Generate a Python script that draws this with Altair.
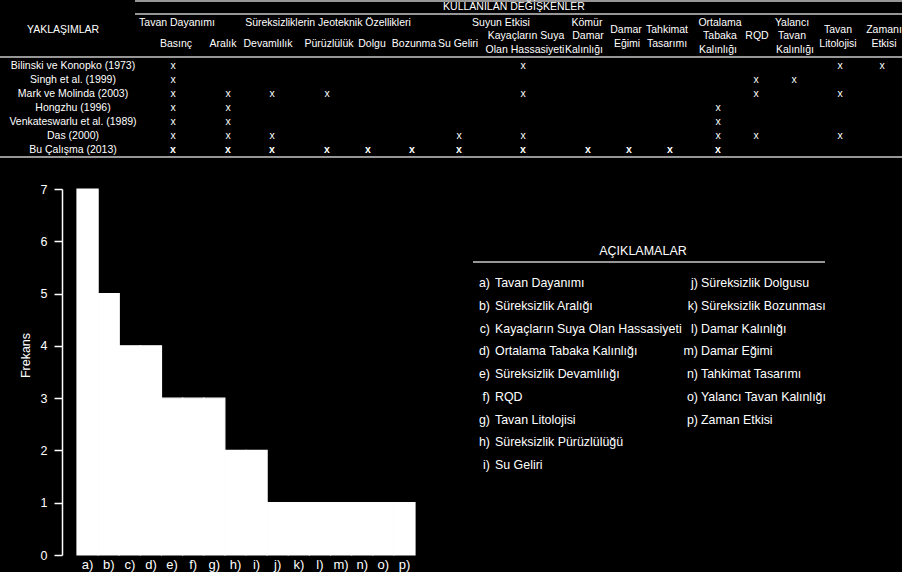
import altair as alt
import pandas as pd

FONT = "Liberation Sans"

# ---------------- data ----------------
approaches = [
    "Bilinski ve Konopko (1973)",
    "Singh et al. (1999)",
    "Mark ve Molinda (2003)",
    "Hongzhu (1996)",
    "Venkateswarlu et al. (1989)",
    "Das (2000)",
    "Bu Çalışma (2013)",
]

table_columns = [
    "Basınç", "Aralık", "Devamlılık", "Pürüzlülük", "Dolgu", "Bozunma", "Su Geliri",
    "Kayaçların Suya Olan Hassasiyeti", "Kömür Damar Kalınlığı", "Damar Eğimi",
    "Tahkimat Tasarımı", "Ortalama Tabaka Kalınlığı", "RQD", "Yalancı Tavan Kalınlığı",
    "Tavan Litolojisi", "Zaman Etkisi",
]

approach_uses = {
    "Bilinski ve Konopko (1973)": ["Basınç", "Kayaçların Suya Olan Hassasiyeti",
                                   "Tavan Litolojisi", "Zaman Etkisi"],
    "Singh et al. (1999)": ["Basınç", "RQD", "Yalancı Tavan Kalınlığı"],
    "Mark ve Molinda (2003)": ["Basınç", "Aralık", "Devamlılık", "Pürüzlülük",
                               "Kayaçların Suya Olan Hassasiyeti", "RQD", "Tavan Litolojisi"],
    "Hongzhu (1996)": ["Basınç", "Aralık", "Ortalama Tabaka Kalınlığı"],
    "Venkateswarlu et al. (1989)": ["Basınç", "Aralık", "Ortalama Tabaka Kalınlığı"],
    "Das (2000)": ["Basınç", "Aralık", "Devamlılık", "Su Geliri",
                   "Kayaçların Suya Olan Hassasiyeti", "Ortalama Tabaka Kalınlığı",
                   "RQD", "Tavan Litolojisi"],
    "Bu Çalışma (2013)": ["Basınç", "Aralık", "Devamlılık", "Pürüzlülük", "Dolgu", "Bozunma",
                          "Su Geliri", "Kayaçların Suya Olan Hassasiyeti",
                          "Kömür Damar Kalınlığı", "Damar Eğimi", "Tahkimat Tasarımı",
                          "Ortalama Tabaka Kalınlığı"],
}
highlight_approach = "Bu Çalışma (2013)"

header_labels = [
    "KULLANILAN DEĞİŞKENLER", "YAKLAŞIMLAR", "Tavan Dayanımı",
    "Süreksizliklerin Jeoteknik Özellikleri", "Suyun Etkisi",
    "Basınç", "Aralık", "Devamlılık", "Pürüzlülük", "Dolgu", "Bozunma", "Su Geliri",
    "Kayaçların Suya", "Olan Hassasiyeti", "Kömür", "Damar", "Kalınlığı",
    "Damar", "Eğimi", "Tahkimat", "Tasarımı", "Ortalama", "Tabaka", "Kalınlığı",
    "RQD", "Yalancı", "Tavan", "Kalınlığı", "Tavan", "Litolojisi", "Zamanı", "Etkisi",
]

var_letters = ["a)", "b)", "c)", "d)", "e)", "f)", "g)", "h)", "i)",
               "j)", "k)", "l)", "m)", "n)", "o)", "p)"]
var_names = [
    "Tavan Dayanımı", "Süreksizlik Aralığı", "Kayaçların Suya Olan Hassasiyeti",
    "Ortalama Tabaka Kalınlığı", "Süreksizlik Devamlılığı", "RQD", "Tavan Litolojisi",
    "Süreksizlik Pürüzlülüğü", "Su Geliri", "Süreksizlik Dolgusu", "Süreksizlik Bozunması",
    "Damar Kalınlığı", "Damar Eğimi", "Tahkimat Tasarımı", "Yalancı Tavan Kalınlığı",
    "Zaman Etkisi",
]
frequencies = [7, 5, 4, 4, 3, 3, 3, 2, 2, 1, 1, 1, 1, 1, 1, 1]

legend_title = "AÇIKLAMALAR"
y_title = "Frekans"

# ---------------- layout (pixels) ----------------
X0, Y0 = 77, 189            # plot-area origin of the histogram on the page
PLOT_W, PLOT_H = 338, 366
PAGE_W, PAGE_H = 902, 572

header_xy = [
    (514, 7), (63, 30), (177, 23), (328, 23), (501, 23),
    (176, 44), (223, 44), (268, 44), (329, 44), (372, 44), (414, 44), (458, 44),
    (526, 36), (525, 50), (587, 23), (588, 36), (584, 50),
    (626, 30), (627, 44), (667, 30), (667, 44), (720, 23), (720, 36), (718, 50),
    (757, 36), (792, 23), (792, 36), (795, 50), (838, 30), (838, 44), (884, 30), (884, 44),
]
column_x = [173, 228, 272, 327, 368, 412, 459, 523, 588, 629, 670, 718, 756, 794, 840, 882]
row_label_x = 73
row_y0, row_step = 65.5, 14.1
table_lines = [(135, 902, 1), (135, 902, 14), (0, 902, 57), (0, 902, 157)]
legend_line = (473, 825, 262)
legend_title_xy = (643, 251)
legend_left = (490, 495)   # letter right edge, name left edge
legend_right = (698, 701)
legend_y0, legend_step, legend_rows = 283.3, 22.7, 9

LINE_COLOR = "#c8c8c8"
TABLE_FS = 10.5
LEGEND_FS = 12.4

# ---------------- frames ----------------
hdr = pd.DataFrame({
    "text": header_labels,
    "px": [p[0] - X0 for p in header_xy],
    "py": [p[1] - Y0 for p in header_xy],
})

rows = pd.DataFrame({
    "text": approaches,
    "px": [row_label_x - X0] * len(approaches),
    "py": [row_y0 + i * row_step - Y0 for i in range(len(approaches))],
})

cell_records = []
for i, a in enumerate(approaches):
    for c in approach_uses[a]:
        j = table_columns.index(c)
        cell_records.append({
            "text": "x",
            "px": column_x[j] - X0,
            "py": row_y0 + i * row_step - Y0,
            "bold": a == highlight_approach,
        })
cells = pd.DataFrame(cell_records)

lines = pd.DataFrame({
    "px": [l[0] - X0 for l in table_lines] + [legend_line[0] - X0],
    "px2": [l[1] - X0 for l in table_lines] + [legend_line[1] - X0],
    "py": [l[2] - Y0 for l in table_lines] + [legend_line[2] - Y0],
})

hist = pd.DataFrame({"var": var_letters, "freq": frequencies})

leg_records = []
for k, (let, name) in enumerate(zip(var_letters, var_names)):
    col = legend_left if k < legend_rows else legend_right
    r = k if k < legend_rows else k - legend_rows
    y = legend_y0 + r * legend_step - Y0
    leg_records.append({"letter": let, "name": name,
                        "lx": col[0] - X0, "nx": col[1] - X0, "py": y})
leg = pd.DataFrame(leg_records)

leg_title = pd.DataFrame({"text": [legend_title],
                          "px": [legend_title_xy[0] - X0],
                          "py": [legend_title_xy[1] - Y0]})

PX = alt.X("px:Q", scale=None, axis=None)
PY = alt.Y("py:Q", scale=None, axis=None)

# ---------------- layers ----------------
header_layer = alt.Chart(hdr).mark_text(
    font=FONT, fontSize=TABLE_FS, color="white", align="center", baseline="middle"
).encode(x=PX, y=PY, text="text:N")

rows_layer = alt.Chart(rows).mark_text(
    font=FONT, fontSize=TABLE_FS, color="white", align="center", baseline="middle"
).encode(x=PX, y=PY, text="text:N")

cells_normal = alt.Chart(cells).transform_filter("!datum.bold").mark_text(
    font=FONT, fontSize=TABLE_FS, color="white", align="center", baseline="middle"
).encode(x=PX, y=PY, text="text:N")

cells_bold = alt.Chart(cells).transform_filter("datum.bold").mark_text(
    font=FONT, fontSize=TABLE_FS, fontWeight="bold", color="white", align="center",
    baseline="middle"
).encode(x=PX, y=PY, text="text:N")

lines_layer = alt.Chart(lines).mark_rule(color=LINE_COLOR, strokeWidth=1.5).encode(
    x=PX, x2="px2:Q", y=PY
)

bars = alt.Chart(hist).mark_bar(color="white", stroke="white", strokeWidth=1.2).encode(
    x=alt.X("var:N", sort=var_letters,
            scale=alt.Scale(paddingInner=0, paddingOuter=0),
            axis=alt.Axis(title=None, labelAngle=0, domain=False, ticks=False, tickSize=0,
                          labelPadding=3, labelColor="white", labelFont=FONT,
                          labelFontSize=13)),
    y=alt.Y("freq:Q",
            scale=alt.Scale(domain=[0, 7], nice=False, zero=True),
            axis=alt.Axis(title=y_title, values=list(range(8)), format="d", grid=False,
                          offset=15, domainColor="white", domainWidth=1.5,
                          tickColor="white", tickWidth=1.5, tickSize=8, labelPadding=7,
                          labelColor="white", labelFont=FONT, labelFontSize=12.5,
                          titleColor="white", titleFont=FONT, titleFontSize=12.5,
                          titleFontWeight="normal", titleX=-30, titleY=166)),
)

leg_title_layer = alt.Chart(leg_title).mark_text(
    font=FONT, fontSize=12.5, color="white", align="center", baseline="middle"
).encode(x=PX, y=PY, text="text:N")

leg_letters = alt.Chart(leg).mark_text(
    font=FONT, fontSize=LEGEND_FS, color="white", align="right", baseline="middle"
).encode(x=alt.X("lx:Q", scale=None, axis=None), y=PY, text="letter:N")

leg_names = alt.Chart(leg).mark_text(
    font=FONT, fontSize=LEGEND_FS, color="white", align="left", baseline="middle"
).encode(x=alt.X("nx:Q", scale=None, axis=None), y=PY, text="name:N")

chart = alt.layer(
    lines_layer, header_layer, rows_layer, cells_normal, cells_bold,
    bars, leg_title_layer, leg_letters, leg_names,
).properties(
    width=PLOT_W,
    height=PLOT_H,
    padding={"left": X0, "top": Y0,
             "right": PAGE_W - X0 - PLOT_W, "bottom": PAGE_H - Y0 - PLOT_H},
    autosize=alt.AutoSizeParams(type="none"),
    background="black",
).configure_view(stroke=None)

chart.save("out.html", embed_options={"renderer": "svg", "actions": False})
